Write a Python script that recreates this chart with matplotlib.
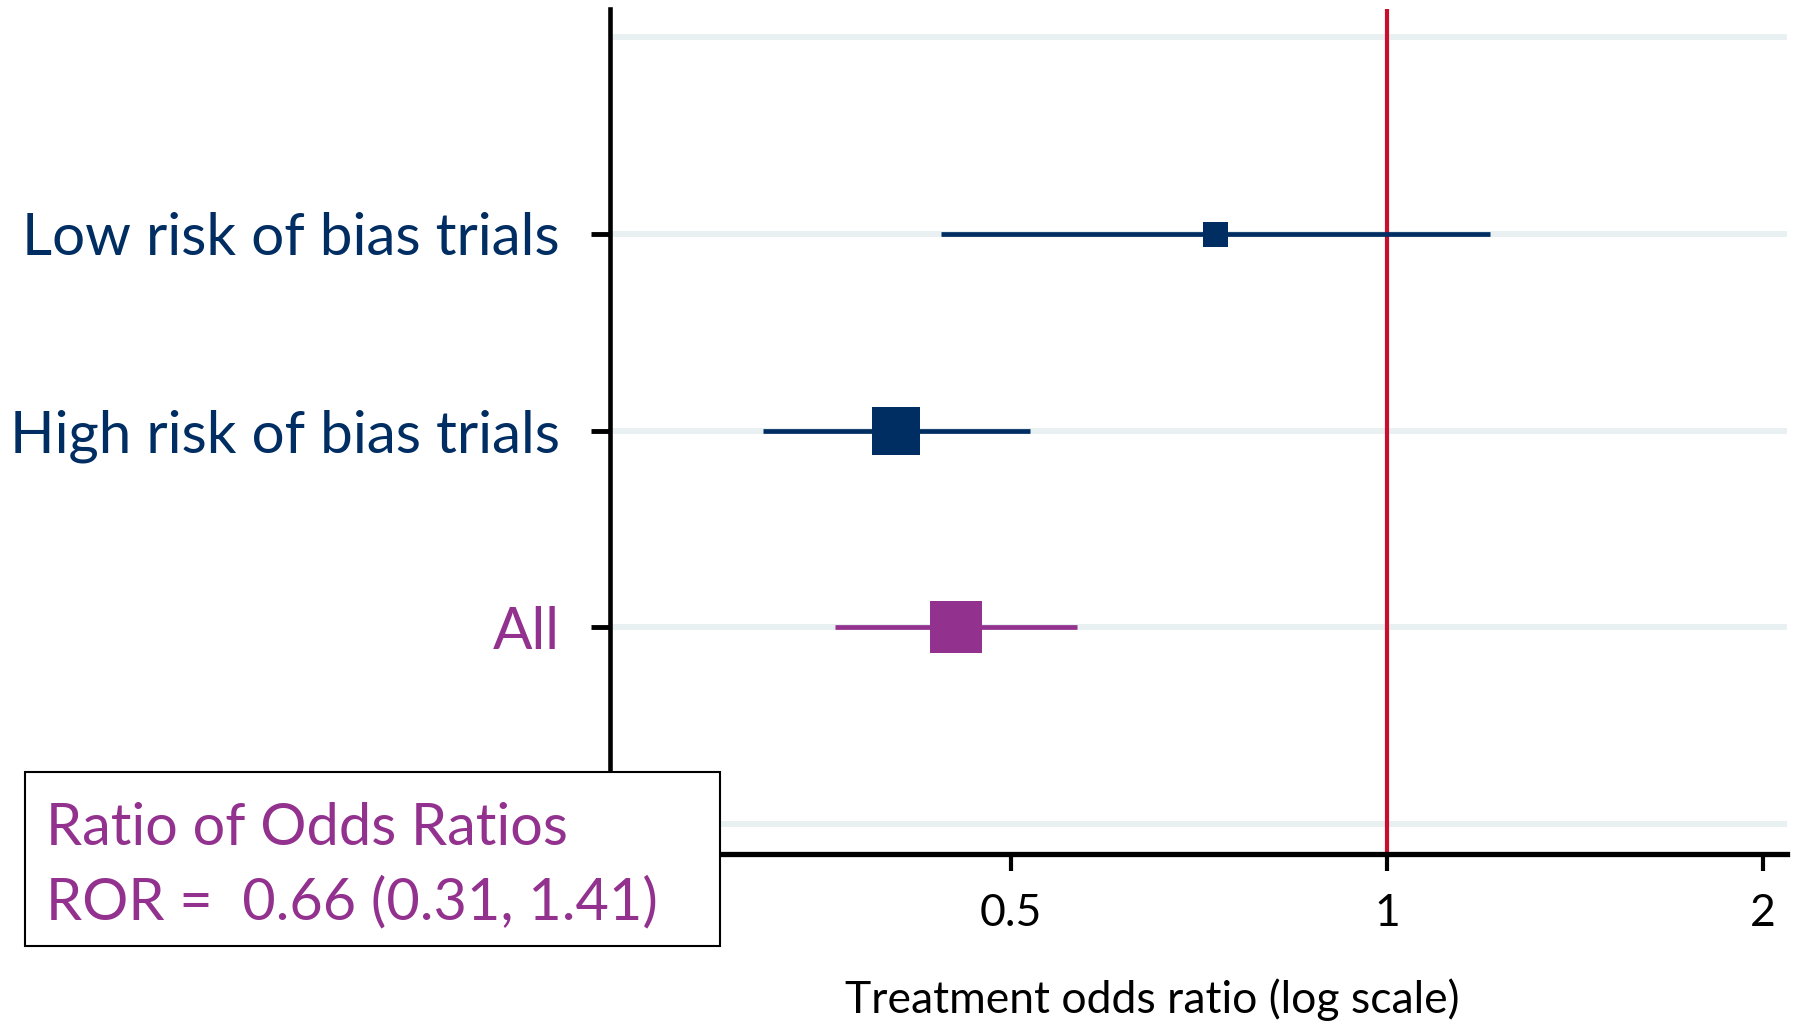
import numpy as np
import matplotlib
matplotlib.use("Agg")
from matplotlib import pyplot as plt
from matplotlib.patches import Rectangle

plt.rcParams['font.family'] = ['Lato', 'DejaVu Sans']

# forest plot data (odds ratios)
labels = ["Low risk of bias trials", "High risk of bias trials", "All"]
ypos = [3, 2, 1]
est = [0.729, 0.405, 0.452]
lo = [0.44, 0.317, 0.362]
hi = [1.21, 0.518, 0.565]
marker_px = [25, 48, 53]
navy = "#002d62"
purple = "#93318e"
colors = [navy, navy, purple]
grid_rows = [0, 1, 2, 3, 4]
xticks = [0.5, 1, 2]
xticklabels = ["0.5", "1", "2"]

fig = plt.figure(figsize=(17.96, 10.23), dpi=100)
ax = fig.add_axes([610 / 1796, 169 / 1023, 1177 / 1796, 845 / 1023])

ax.set_xscale("log")
ax.set_xlim(0.239, 2.09)
ax.set_ylim(-0.15, 4.14)

for g in grid_rows:
    ax.axhline(g, color="#e8f0f2", lw=4.3, zorder=0)

ax.axvline(1, color="#c8102e", lw=3.0, zorder=1)

for y, e, l, h, c, m in zip(ypos, est, lo, hi, colors, marker_px):
    ax.plot([l, h], [y, y], color=c, lw=3.4, solid_capstyle="butt", zorder=3)
    ax.plot([e], [y], marker="s", color=c, markersize=m * 72 / 100,
            markeredgewidth=0, zorder=4)

ax.set_yticks(ypos)
ax.set_yticklabels(labels, fontsize=42)
for t, c in zip(ax.get_yticklabels(), colors):
    t.set_color(c)
ax.tick_params(axis="y", length=14, width=3.5, pad=22, direction="out")

ax.xaxis.set_major_locator(matplotlib.ticker.FixedLocator(xticks))
ax.xaxis.set_minor_locator(matplotlib.ticker.NullLocator())
ax.set_xticklabels(xticklabels, fontsize=32)
ax.tick_params(axis="x", length=12, width=3, pad=16)
ax.set_xlabel("Treatment odds ratio (log scale)", fontsize=32)
ax.xaxis.set_label_coords(0.4606, -0.147)

ax.spines["top"].set_visible(False)
ax.spines["right"].set_visible(False)
ax.spines["left"].set_linewidth(3.3)
ax.spines["bottom"].set_linewidth(3.8)

# annotation box
box = Rectangle((25 / 1796, 1 - 946 / 1023), 695 / 1796, 174 / 1023,
                transform=fig.transFigure, facecolor="white",
                edgecolor="black", lw=1.5, zorder=5)
fig.add_artist(box)
fig.text(46 / 1796, 1 - 845 / 1023, "Ratio of Odds Ratios", fontsize=41.5,
         color=purple, zorder=6, va="baseline")
fig.text(46 / 1796, 1 - 919 / 1023, "ROR =  0.66 (0.31, 1.41)", fontsize=41.5,
         color=purple, zorder=6, va="baseline")

fig.savefig("out.png", dpi=100)
